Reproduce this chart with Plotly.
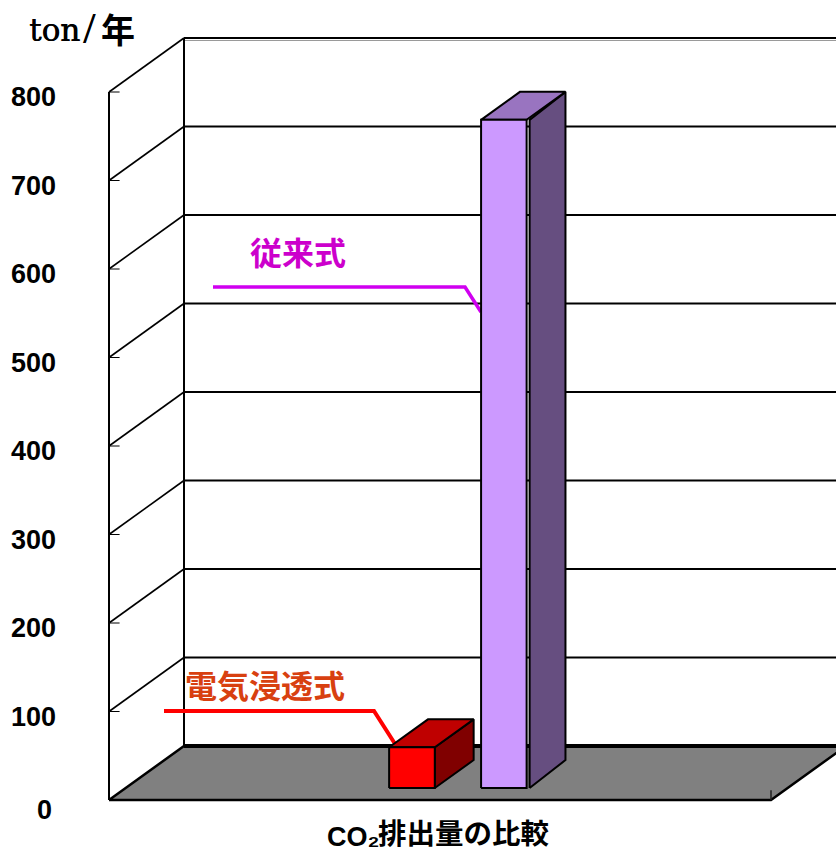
import plotly.graph_objects as go

# Chart content
categories = ["電気浸透式", "従来式"]
emissions = [46, 755]
tick_values = [0, 100, 200, 300, 400, 500, 600, 700, 800]
tick_labels = ["0", "100", "200", "300", "400", "500", "600", "700", "800"]
unit_text = "ton"
unit_slash = "/"
unit_year = "年"
axis_prefix = "CO₂"
axis_text = "排出量の比較"

WIDTH, HEIGHT = 836, 853

# Oblique projection of the box: screen pixels per unit of each world axis
X_ORIGIN_PX, X_SPAN_PX = 109, 662
Y_ORIGIN_PX, PX_PER_VALUE = 800, 0.885
DEPTH_DX_PX, DEPTH_DY_PX = 75, 54
DEPTH_DX = DEPTH_DX_PX / X_SPAN_PX
DEPTH_DY = DEPTH_DY_PX / PX_PER_VALUE


def project(x, value, depth=0.0):
    return x + depth * DEPTH_DX, value + depth * DEPTH_DY


def from_px(px, py):
    return (px - X_ORIGIN_PX) / X_SPAN_PX, (Y_ORIGIN_PX - py) / PX_PER_VALUE


def polygon(points, fill=None, line="black", width=2):
    xs, ys = zip(*(project(*p) for p in points))
    return go.Scatter(
        x=list(xs), y=list(ys), mode="lines",
        fill="toself" if fill else None, fillcolor=fill,
        line=dict(color=line, width=width),
        hoverinfo="skip", showlegend=False,
    )


def px_line(points, color, width):
    xs, ys = zip(*(from_px(*p) for p in points))
    return go.Scatter(x=list(xs), y=list(ys), mode="lines",
                      line=dict(color=color, width=width),
                      hoverinfo="skip", showlegend=False)


fig = go.Figure()

# Wall grid: back-wall rule, side-wall diagonal and short axis tick for each step
top = tick_values[-1]
for v in tick_values[1:]:
    fig.add_trace(polygon([(0, v, 1), (1, v, 1)]))
    fig.add_trace(polygon([(0, v, 0), (0, v, 1)], width=1.6))
    fig.add_trace(polygon([(0, v, 0), (0.016, v, 0)], width=1))
fig.add_trace(px_line([(184, 40.5), (836, 40.5)], "#9a9a9a", 1))
fig.add_trace(polygon([(0, 0, 0), (0, top, 0)]))
fig.add_trace(polygon([(0, 0, 1), (0, top, 1)]))

# Floor
fig.add_trace(polygon([(0, 0, 0), (1, 0, 0), (1, 0, 1), (0, 0, 1), (0, 0, 0)],
                      fill="#808080", width=2.5))
fig.add_trace(polygon([(0, 0, 1), (1, 0, 1)], width=4))
fig.add_trace(polygon([(1, 0, 0), (1, 11, 0)], line="#202020", width=1.5))

# Leader lines from the series names to their bars
fig.add_trace(px_line([(164, 711), (374, 711), (397, 747)], "#ff0000", 4))
fig.add_trace(px_line([(213, 287), (465, 287), (481, 312)], "#d000f0", 3.5))

# Bars
FRONT, BACK = 0.222, 0.74
bar_spans = [(0.398, 0.467), (0.5369, 0.6057)]
bar_faces = [("#ff0000", "#bf0000", "#800000", 0.0),
             ("#cc99ff", "#9974c0", "#664e80", 3 / X_SPAN_PX)]
for (x0, x1), value, (front, roof, side, gap) in zip(bar_spans, emissions, bar_faces):
    fig.add_trace(polygon([(x1 + gap, 0, FRONT), (x1, 0, BACK), (x1, value, BACK),
                           (x1 + gap, value, FRONT), (x1 + gap, 0, FRONT)], fill=side))
    fig.add_trace(polygon([(x0, value, FRONT), (x1, value, FRONT), (x1, value, BACK),
                           (x0, value, BACK), (x0, value, FRONT)], fill=roof))
    fig.add_trace(polygon([(x0, 0, FRONT), (x1, 0, FRONT), (x1, value, FRONT),
                           (x0, value, FRONT), (x0, 0, FRONT)], fill=front))

annotations = []


def label(text, px, py, size, color="black", family="Noto Sans CJK JP", bold=True, shadow=None):
    x, y = from_px(px, py)
    font = dict(size=size, color=color, family=family)
    if shadow:
        font["shadow"] = shadow
    annotations.append(dict(
        x=x, y=y, text=f"<b>{text}</b>" if bold else text, showarrow=False,
        xanchor="left", yanchor="middle", align="left", font=font,
    ))


# Value axis labels follow the axis scale
for v, t in zip(tick_values, tick_labels):
    x, y = project(0, v, 0)
    annotations.append(dict(
        x=x, y=y, text=f"<b>{t}</b>", showarrow=False, xanchor="center", yanchor="middle",
        xshift=-76 if v else -65, yshift=-5 if v else -10,
        font=dict(size=27, color="black", family="Liberation Sans"),
    ))

label(unit_text, 27, 30, 31, family="DejaVu Serif", bold=False, shadow="0.6px 0 0 #000")
label(unit_slash, 81, 28, 44, family="Liberation Serif", bold=False, shadow="0.6px 0 0 #000")
label(unit_year, 99, 28, 34)
label(axis_prefix, 325, 837, 27, family="Liberation Sans")
label(axis_text, 376, 834, 28.5, family="Liberation Sans, Noto Sans CJK JP")
label(categories[1], 248, 251, 32, color="#cc00cc")
label(categories[0], 183, 684, 32, color="#d84010")

x_range = [(0 - X_ORIGIN_PX) / X_SPAN_PX, (WIDTH - X_ORIGIN_PX) / X_SPAN_PX]
y_range = [(Y_ORIGIN_PX - HEIGHT) / PX_PER_VALUE, Y_ORIGIN_PX / PX_PER_VALUE]

fig.update_layout(
    width=WIDTH, height=HEIGHT,
    margin=dict(l=0, r=0, t=0, b=0),
    paper_bgcolor="white", plot_bgcolor="white",
    showlegend=False,
    xaxis=dict(range=x_range, visible=False, fixedrange=True),
    yaxis=dict(range=y_range, visible=False, fixedrange=True),
    annotations=annotations,
)
fig.write_html("out.html", config=dict(displayModeBar=False))
